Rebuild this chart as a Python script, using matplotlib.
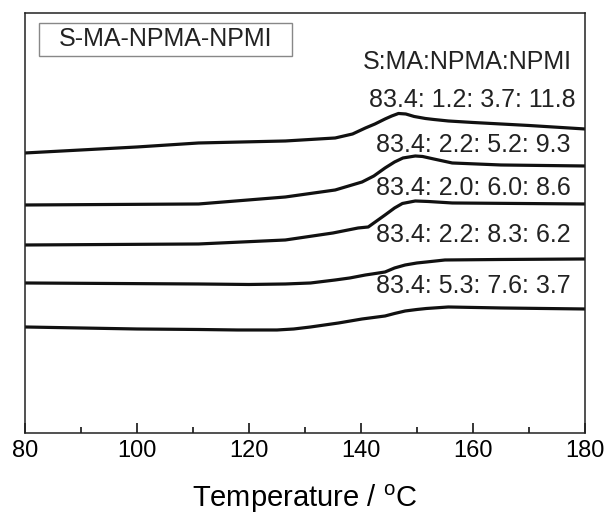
import matplotlib
matplotlib.use('Agg')
import matplotlib.pyplot as plt
from matplotlib.patches import Rectangle
from matplotlib.ticker import MultipleLocator

plt.rcParams['font.family'] = ['Liberation Sans', 'DejaVu Sans']
plt.rcParams['mathtext.fontset'] = 'custom'
plt.rcParams['mathtext.rm'] = 'Liberation Sans'

# DSC traces, temperature (C) vs heat flow (arbitrary units, offset stacked)
t1 = [80, 90, 100, 111, 126.5, 135.4, 138.5, 140.8, 142.5, 144.3, 145.5, 146.7, 148,
      149.5, 151.5, 153, 155.6, 160, 170, 180]
h1 = [280, 283, 286, 290, 292, 295, 299, 305, 309, 314, 317, 319.5, 319,
      316.5, 314.5, 313.5, 312, 310.5, 307.5, 304]

t2 = [80, 111, 126.5, 135.4, 140.2, 142.3, 144.3, 146, 147.5, 149.7, 151, 153, 156.3, 165, 180]
h2 = [228, 229, 236, 243, 251, 257, 265, 271, 275, 277, 276.5, 274, 270, 268, 267]

t3 = [80, 111, 126.5, 135, 139.5, 141.3, 142.8, 144.3, 146, 147.4, 149.7, 152, 156.3, 180]
h3 = [188, 189, 193, 200, 205, 206, 212, 218, 225, 229.5, 232, 231.5, 230, 229]

t4 = [80, 111, 120, 126.5, 131, 135.4, 138, 140.8, 142, 144.3, 146, 147.9, 150, 151.7,
      155, 165, 180]
h4 = [150, 149, 148.5, 149, 150, 153, 155, 158, 159, 161, 165, 168, 170, 171,
      173, 173.5, 174]

t5 = [80, 90, 100, 111, 118, 125, 128, 131, 136, 140.2, 144.3, 146, 147.9, 150, 151.7,
      155.6, 165.2, 180]
h5 = [106, 105, 104, 103.5, 103, 103, 104, 106, 110, 114, 117, 119.5, 122, 123.5, 124.5,
      126, 125, 124]

series = [(t1, h1), (t2, h2), (t3, h3), (t4, h4), (t5, h5)]

ratio_labels = ['83.4: 1.2: 3.7: 11.8', '83.4: 2.2: 5.2: 9.3', '83.4: 2.0: 6.0: 8.6',
                '83.4: 2.2: 8.3: 6.2', '83.4: 5.3: 7.6: 3.7']
label_x = [141.5, 142.6, 142.6, 142.6, 142.6]
label_y = [333, 288, 245, 198, 147]

fig = plt.figure(figsize=(6.09, 5.17), dpi=100)
ax = fig.add_axes([0.041, 0.1625, 0.9195, 0.8124])

for t, h in series:
    ax.plot(t, h, color='#111111', lw=2.3, solid_capstyle='round', solid_joinstyle='round')

ax.text(140.25, 371, 'S:MA:NPMA:NPMI', fontsize=18, ha='left', va='center', color='#222222')
for lx, ly, s in zip(label_x, label_y, ratio_labels):
    ax.text(lx, ly, s, fontsize=18, ha='left', va='center', color='#222222')

# boxed series name
ax.add_patch(Rectangle((0.025, 0.898), 0.452, 0.078, transform=ax.transAxes,
                       fill=False, edgecolor='#888888', lw=1.0))
ax.text(0.061, 0.937, 'S-MA-NPMA-NPMI', transform=ax.transAxes, fontsize=18,
        ha='left', va='center', color='#222222')

ax.set_xlim(80, 180)
ax.set_ylim(0, 420)
ax.xaxis.set_major_locator(MultipleLocator(20))
ax.xaxis.set_minor_locator(MultipleLocator(10))
ax.tick_params(axis='x', which='major', direction='in', length=7, width=1.1,
               labelsize=17, pad=5, top=False)
ax.tick_params(axis='x', which='minor', direction='in', length=4.5, width=1.1, top=False)
ax.set_yticks([])
for sp in ax.spines.values():
    sp.set_linewidth(1.1)
    sp.set_color('#222222')

ax.set_xlabel(r'Temperature / $^{\mathregular{o}}$C', fontsize=21, labelpad=15)

fig.savefig('out.png', dpi=100)
